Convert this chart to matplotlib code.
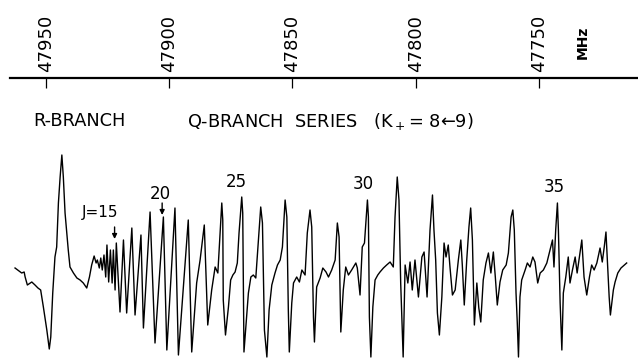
import matplotlib
matplotlib.use("Agg")
import matplotlib.pyplot as plt

# trace: frequency (MHz) and signal (arbitrary units)
freq_mhz = [
    47962.6, 47959.9, 47958.9, 47958.5, 47957.6, 47955.8, 47954.5, 47953.3, 47952.2, 47951.1,
    47949.7, 47948.7, 47948.1, 47947.3, 47946.4, 47945.7, 47945.0, 47944.3, 47943.6, 47943.0,
    47942.3, 47941.0, 47940.3, 47938.9, 47937.5, 47936.2, 47934.9, 47933.5, 47932.4, 47931.5,
    47930.5, 47929.7, 47929.2, 47928.4, 47927.8, 47927.2, 47926.5, 47925.8, 47925.3, 47924.6,
    47923.9, 47923.2, 47922.7, 47922.0, 47921.5, 47920.0, 47918.6, 47917.3, 47915.2, 47913.9,
    47911.5, 47910.5, 47907.8, 47905.8, 47902.4, 47901.0, 47897.7, 47896.3, 47892.3, 47890.9,
    47888.9, 47887.5, 47885.8, 47884.4, 47882.8, 47881.4, 47880.3, 47878.7, 47878.3, 47878.1,
    47877.2, 47876.0, 47875.1, 47874.2, 47873.3, 47872.4, 47871.7, 47870.6, 47870.2, 47869.7,
    47868.8, 47867.9, 47866.9, 47865.9, 47864.9, 47864.1, 47862.9, 47862.2, 47861.4, 47860.4,
    47859.5, 47858.4, 47857.1, 47856.1, 47855.0, 47854.1, 47853.0, 47852.3, 47851.7, 47851.3,
    47850.3, 47849.6, 47848.3, 47847.2, 47846.2, 47844.9, 47844.0, 47842.9, 47842.2, 47841.5,
    47841.1, 47840.2, 47838.8, 47837.7, 47836.4, 47835.4, 47834.1, 47832.7, 47831.8, 47831.1,
    47830.4, 47829.4, 47828.4, 47827.3, 47826.0, 47824.3, 47823.7, 47822.6, 47821.7, 47820.8,
    47819.6, 47819.2, 47818.8, 47818.2, 47817.4, 47816.5, 47815.4, 47814.5, 47813.1, 47811.8,
    47810.4, 47809.1, 47808.4, 47807.5, 47806.8, 47806.1, 47805.1, 47804.3, 47803.2, 47802.3,
    47801.4, 47800.3, 47798.9, 47797.5, 47796.6, 47795.4, 47794.2, 47793.2, 47792.6, 47791.9,
    47791.2, 47790.4, 47789.4, 47788.5, 47787.7, 47786.8, 47786.1, 47785.1, 47784.0, 47782.7,
    47781.7, 47781.1, 47780.3, 47779.3, 47778.4, 47777.7, 47777.0, 47776.2, 47775.2, 47774.4,
    47773.6, 47772.6, 47771.5, 47770.5, 47769.5, 47768.5, 47767.7, 47766.9, 47765.8, 47764.7,
    47763.3, 47762.4, 47761.3, 47760.6, 47760.0, 47759.3, 47758.8, 47758.3, 47757.7, 47757.0,
    47755.6, 47754.7, 47753.6, 47752.5, 47751.6, 47750.5, 47749.5, 47748.2, 47746.8, 47745.5,
    47744.5, 47743.9, 47743.2, 47742.5, 47742.1, 47741.4, 47740.7, 47740.1, 47739.1, 47738.1,
    47737.4, 47736.4, 47735.3, 47734.5, 47733.6, 47732.6, 47731.7, 47730.6, 47729.5, 47728.6,
    47727.6, 47726.5, 47725.2, 47724.3, 47723.5, 47722.8, 47722.1, 47721.5, 47721.0, 47719.8,
    47719.1, 47718.0, 47716.7, 47715.3, 47714.4,
]
signal = [
    22, 17, 18, 13, 5, 8, 5, 2, 0, -17,
    -40, -59, -47, -3, 33, 43, 87, 113, 135, 113,
    77, 40, 23, 17, 12, 10, 7, 2, 13, 25,
    34, 27, 30, 22, 32, 20, 35, 13, 45, 8,
    40, 7, 40, 0, 47, -22, 50, -23, 62, -25,
    55, -38, 78, -53, 73, -60, 82, -65, 70, -62,
    7, 30, 65, -35, 0, 23, 17, 87, 70, -10,
    -45, -17, 10, 15, 18, 27, 57, 93, 77, -62,
    -33, -3, 13, 15, 12, 40, 83, 67, -40, -67,
    -20, 5, 17, 25, 30, 43, 90, 73, -20, -62,
    -13, 7, 13, 8, 20, 15, 57, 80, 63, -27,
    -52, 3, 12, 22, 18, 13, 20, 30, 67, 53,
    -42, 0, 23, 15, 20, 27, 22, -5, 43, 47,
    90, 73, -27, -67, -17, 10, 15, 18, 22, 25,
    28, 23, 73, 113, 90, 7, -67, 25, 7, 28,
    0, 30, -7, 33, 38, -7, 60, 95, 60, 30,
    -23, -45, -7, 47, 33, 45, 23, -5, 0, 30,
    50, 25, -15, 30, 63, 82, 50, -35, 7, -18,
    -32, 10, 27, 37, 17, 38, 13, -15, 8, 20,
    25, 37, 73, 80, 60, -3, -32, -67, -7, 10,
    20, 27, 23, 33, 28, 7, 17, 20, 27, 40,
    50, 23, 60, 87, 60, -13, -60, -3, 13, 33,
    7, 20, 33, 17, 33, 50, 13, -5, 13, 25,
    20, 27, 42, 28, 43, 58, 23, -7, -25, 0,
    8, 17, 22, 25, 27,
]
assert len(freq_mhz) == len(signal)

freq_ticks = [47950, 47900, 47850, 47800, 47750]

# J labels of the Q-branch lines (text position in MHz / signal units)
j_labels = ["J=15", "20", "25", "30", "35"]
j_label_freq = [47928.1, 47903.5, 47872.9, 47821.4, 47743.9]
j_label_sig = [77, 96, 108, 106, 103]

# arrows under "J=15" and "20": (freq, top, tip)
arrow_freq = [47922.2, 47902.9]
arrow_top = [63, 87]
arrow_tip = [51, 75]

fig = plt.figure(figsize=(6.38, 3.58), dpi=100)

ax = fig.add_axes([0, 0, 1, 1])
ax.set_xlim(47968.7, 47709.8)
ax.set_ylim(-68, 290)
ax.axis("off")
ax.plot(freq_mhz, signal, color="black", lw=1.0)

for lab, f, s in zip(j_labels, j_label_freq, j_label_sig):
    ax.text(f, s, lab, ha="center", va="center", fontsize=12 if lab != "J=15" else 11)

for f, top, tip in zip(arrow_freq, arrow_top, arrow_tip):
    ax.annotate("", xy=(f, tip), xytext=(f, top),
                arrowprops=dict(arrowstyle="-|>", color="black", lw=1.0,
                                mutation_scale=7, shrinkA=0, shrinkB=0))

ax.text(47955.3, 168.5, "R-BRANCH", ha="left", va="center", fontsize=12.8)
ax.text(47892.8, 169, "Q-BRANCH  SERIES   (K$_+$= 8\u21909)", ha="left", va="center",
        fontsize=12.8)

# frequency scale along the top
ax_top = fig.add_axes([10 / 638, 0.4, 628 / 638, (358 - 78) / 358 - 0.4])
ax_top.set_xlim(47964.6, 47709.8)
ax_top.patch.set_visible(False)
for side in ["left", "right", "bottom"]:
    ax_top.spines[side].set_visible(False)
ax_top.spines["top"].set_linewidth(1.6)
ax_top.set_yticks([])
ax_top.xaxis.tick_top()
ax_top.set_xticks(freq_ticks)
ax_top.set_xticklabels([str(t) for t in freq_ticks])
ax_top.tick_params(axis="x", direction="in", length=7.5, width=0.9, pad=4,
                   labelsize=13, labelrotation=90)

fig.text(583 / 638, 1 - 42 / 358, "MHz", rotation=90, ha="center", va="center",
         fontsize=10, fontweight="bold")

fig.savefig("out.png", dpi=100)
